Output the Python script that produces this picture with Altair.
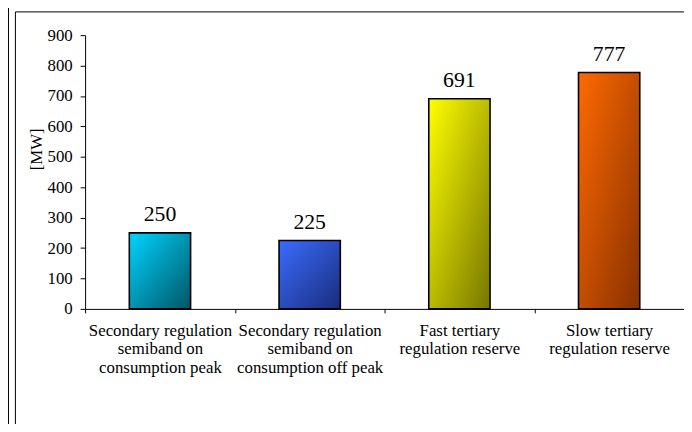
import altair as alt
import pandas as pd

categories = [
    "Secondary regulation|semiband on|consumption peak",
    "Secondary regulation|semiband on|consumption off peak",
    "Fast tertiary|regulation reserve",
    "Slow tertiary|regulation reserve",
]
values = [250, 225, 691, 777]
light_colors = ["#00d4ff", "#3a6cff", "#ffff00", "#ff6a00"]
dark_colors = ["#005566", "#1a2c7c", "#767600", "#883000"]
y_ticks = [0, 100, 200, 300, 400, 500, 600, 700, 800, 900]

df = pd.DataFrame({"cat": categories, "value": values})

FONT = "Liberation Serif"

x_enc = alt.X(
    "cat:N",
    scale=alt.Scale(domain=categories, paddingInner=0, paddingOuter=0),
    axis=alt.Axis(
        title=None,
        labelExpr="split(datum.label, '|')",
        labelAngle=0,
        tickBand="extent",
        tickSize=4,
        labelPadding=10,
        labelLineHeight=18.5,
        labelBaseline="top",
    ),
)
y_enc = alt.Y(
    "value:Q",
    scale=alt.Scale(domain=[0, 900], nice=False),
    axis=alt.Axis(
        values=y_ticks,
        title="[MW]",
        grid=False,
        tickSize=5,
        labelPadding=8,
        titleX=-49,
        titleY=115,
        titleAlign="center",
        titleBaseline="middle",
    ),
)

base = alt.Chart(df)

bar_layers = []
for cat, lc, dc in zip(categories, light_colors, dark_colors):
    grad = alt.Gradient(
        gradient="linear",
        stops=[alt.GradientStop(color=lc, offset=0), alt.GradientStop(color=dc, offset=1)],
        x1=0, y1=0, x2=1, y2=1,
    )
    bar_layers.append(
        base.transform_filter(alt.datum.cat == cat)
        .mark_bar(size=62, fill=grad, stroke="black", strokeWidth=1.6)
        .encode(x=x_enc, y=y_enc)
    )

text = base.mark_text(
    dy=-12, baseline="alphabetic", fontSize=22, font=FONT, color="black"
).encode(x=x_enc, y=y_enc, text="value:Q")

frame_df = pd.DataFrame({"k": [0]})
frame = alt.Chart(frame_df)
frame_top = frame.mark_rule(color="black", strokeWidth=1).encode(
    x=alt.value(-70.5), x2=alt.value(610), y=alt.value(-23.5)
)
frame_left = frame.mark_rule(color="black", strokeWidth=1).encode(
    x=alt.value(-70.5), y=alt.value(-23.5), y2=alt.value(410)
)
prev_right = frame.mark_rule(color="black", strokeWidth=1).encode(
    x=alt.value(-77.5), y=alt.value(-40), y2=alt.value(410)
)

chart = (
    alt.layer(*bar_layers, text, frame_top, frame_left, prev_right)
    .properties(
        width=606,
        height=277,
        autosize=alt.AutoSizeParams(type="none"),
        padding={"left": 78, "top": 25, "right": 0, "bottom": 114},
        background="white",
    )
    .configure_view(stroke=None)
    .configure_axis(
        labelFont=FONT,
        labelFontSize=17,
        labelColor="black",
        labelFontWeight="normal",
        titleFont=FONT,
        titleFontSize=17,
        titleFontWeight="normal",
        titleColor="black",
        domainColor="black",
        tickColor="black",
    )
)

chart.save("out.html", embed_options={"renderer": "svg", "actions": False})
